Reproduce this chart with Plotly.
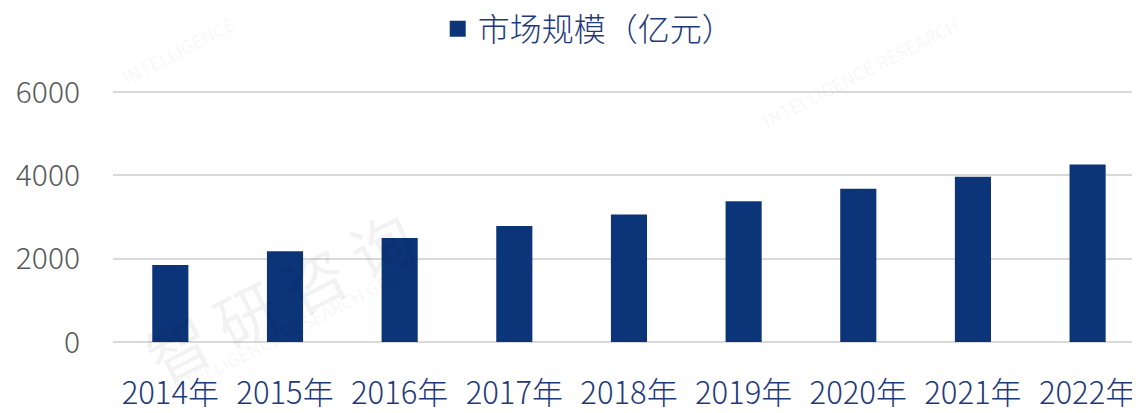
import plotly.graph_objects as go

years = ["2014年", "2015年", "2016年", "2017年", "2018年", "2019年", "2020年", "2021年", "2022年"]
market_size = [1846, 2178, 2494, 2787, 3064, 3381, 3682, 3967, 4260]
series_name = "市场规模（亿元）"
y_ticks = [0, 2000, 4000, 6000]
watermark_cn = "智 研 咨 询"
watermark_en = "INTELLIGENCE RESEARCH GROUP"
watermark_en_short = "INTELLIGENCE RESEARCH"
watermark_en_tiny = "INTELLIGENCE"

FONT = "Noto Sans CJK SC, Source Han Sans SC, sans-serif"
BAR = "#0c3478"
WM = "rgba(0,0,0,0.05)"

fig = go.Figure()
fig.add_trace(go.Bar(
    x=years, y=market_size, name=series_name,
    marker=dict(color=BAR, line=dict(width=0)),
    width=0.315,
    showlegend=False,
))
# legend entry with a larger square swatch
fig.add_trace(go.Scatter(
    x=[None], y=[None], mode="markers", name=series_name,
    marker=dict(symbol="square", size=16, color=BAR),
    showlegend=True,
))

W, H = 1132, 405
L, R, T, B = 105, 0, 82, 68
fig.update_layout(
    width=W, height=H,
    margin=dict(l=L, r=R, t=T, b=B),
    paper_bgcolor="white", plot_bgcolor="white",
    font=dict(family=FONT, size=31, color="#1f3a7a", weight=300),
    showlegend=True,
    legend=dict(
        orientation="h", xref="container", yref="container",
        x=0.513, xanchor="center", y=0.948, yanchor="middle",
        font=dict(size=32, color="#1f3a7a", family=FONT, weight=300),
        itemwidth=30,
        bgcolor="rgba(0,0,0,0)",
    ),
)

# faint watermarks (page pixel positions converted to paper fraction)
def px(xp, yp):
    xf = (xp - 8 - L) / (W - L - R)
    yf = 1 - (yp - 8 - T) / (H - T - B)
    return xf, yf

for (cx, cy, txt, size) in [
    (279, 297, watermark_cn, 62),
    (295, 330, watermark_en, 18),
    (860, 72, watermark_en_short, 18),
    (178, 50, watermark_en_tiny, 18),
]:
    xf, yf = px(cx, cy)
    fig.add_annotation(
        x=xf, y=yf, xref="paper", yref="paper", text=txt, showarrow=False,
        textangle=-27, font=dict(size=size, color=WM, family=FONT, weight=400),
        xanchor="center", yanchor="middle",
    )

fig.update_xaxes(
    range=[-0.5, 8.457], showgrid=False, showline=False, zeroline=False,
    ticks="", tickfont=dict(size=31, color="#1f3a7a", family=FONT, weight=300),
    ticklabelstandoff=30,
)
fig.update_yaxes(
    range=[0, 6050], tickvals=y_ticks, showgrid=True, gridcolor="#d9d9d9",
    gridwidth=1.5, zeroline=True, zerolinecolor="#d9d9d9", zerolinewidth=1.5,
    showline=False, ticks="", tickfont=dict(size=30, color="#595959", family=FONT, weight=300),
    ticklabelstandoff=32,
)

fig.write_html("out.html")
